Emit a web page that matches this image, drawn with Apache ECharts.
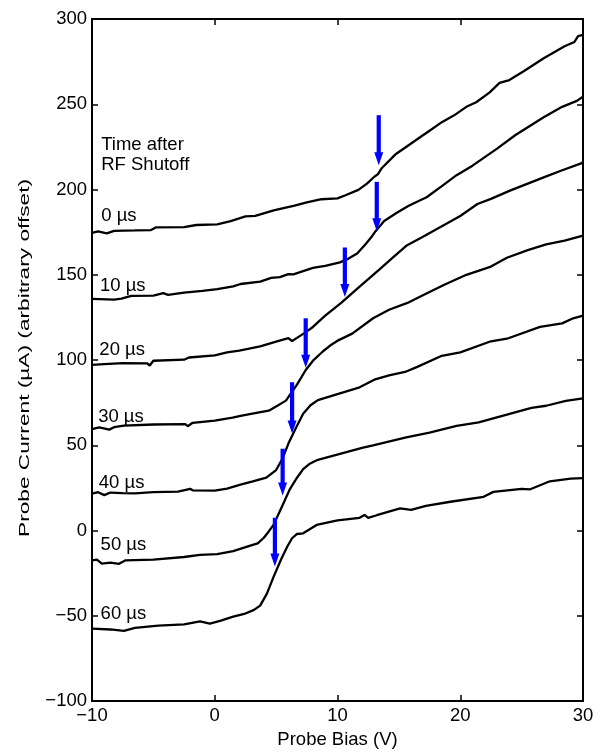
<!DOCTYPE html>
<html>
<head>
<meta charset="utf-8">
<script src="https://cdn.jsdelivr.net/npm/echarts@6/dist/echarts.min.js"></script>
<style>
html, body { margin: 0; padding: 0; background: #fff; }
#main { width: 602px; height: 754px; }
</style>
</head>
<body>
<div id="main"></div>
<script>
var myChart = echarts.init(document.getElementById('main'));

// probe traces, [bias V, current uA]
var trace0us = [[-10,174.6],[-9.5,175.4],[-8.8,174.3],[-8.2,175.8],[-6.5,176],[-5.2,176.2],[-4.8,177.8],[-2.5,178],[-1.5,179.2],[0.2,179.6],[1.3,181.5],[2.5,184.2],[3.3,184.5],[4.8,187.8],[6.5,190.5],[7.5,192.4],[8.7,194.3],[10.0,194.8],[10.6,196.5],[11.7,199.8],[12.4,203.5],[13.0,207.5],[13.3,209],[13.6,212.5],[14.7,220.5],[15.5,224.5],[16.9,231.5],[17.5,234.5],[18.5,239.5],[19.5,243.5],[20.5,248.5],[21.3,251.2],[22.4,257],[23.2,262.5],[24.0,264.2],[25.2,269.5],[26.8,277],[28.5,284],[29.3,286.5],[29.6,290],[30,290.7]];
var trace10us = [[-10,135.9],[-8.2,135.4],[-7.6,136],[-6.8,137.6],[-5,137.8],[-4.2,139.2],[-3.8,138.2],[-2.5,139.5],[-1,140.6],[0.2,141.6],[1.5,143.2],[2.1,144.6],[3.7,146.0],[4.6,148.2],[5.3,148.6],[6.0,150.4],[6.4,150.2],[8.0,154],[9.0,155.2],[10.2,157.3],[10.9,159.5],[11.6,162.5],[12.3,168],[12.8,172.5],[13.1,175.6],[13.8,181.5],[14.8,186.2],[15.8,190.5],[17.26,195.5],[18.5,202],[19.7,208.4],[21.0,214],[23.0,224],[24.5,232],[26.8,242.4],[28.3,248.5],[29.5,252],[30,254.5]];
var trace20us = [[-10,97.2],[-9,97.6],[-7.5,98.2],[-5.5,98],[-5.3,96.8],[-5.0,99.6],[-2.5,100.2],[-2.1,101.5],[0,102.8],[1,104.5],[2.0,105.5],[3.7,108],[5.0,110.8],[6.0,112.8],[6.3,111.2],[6.7,113],[7.3,115.8],[8.0,119.4],[9.0,126],[10.3,133.5],[11.8,143],[13.4,153],[14.5,160],[15.6,167],[17.0,172.5],[18.5,178.5],[20.0,184.5],[21.4,191.5],[22.5,194.5],[24.1,199.5],[25.5,203.5],[26.9,207.4],[28.2,211],[29.9,215.5],[30,216.2]];
var trace30us = [[-10,59.5],[-9.4,60.5],[-8.6,59.2],[-8.2,60.6],[-7.4,61.6],[-5,62.2],[-2.4,62.4],[-2.2,61.2],[-1.8,63.2],[0,64.5],[1.45,66.2],[2.1,67.2],[3.5,69.2],[4.4,70.3],[5.1,73.2],[5.8,76.2],[6.7,85.6],[7.4,94],[8.05,100],[8.8,105],[9.5,109],[10.1,111.7],[11.2,115.5],[12.9,124.5],[14.2,129.5],[15.7,133.5],[17.0,138.2],[18.7,144.2],[20.5,150],[22.5,154.8],[23.8,160],[25.5,164.5],[27.0,167.8],[28.5,170],[30,173]];
var trace40us = [[-10,21.7],[-9.5,22.5],[-9.0,20.8],[-8.5,22.3],[-7.5,22],[-6.5,21.8],[-5,22.6],[-3,22.8],[-2,24.5],[-1.8,23.6],[0,23.4],[1,24.6],[2.1,27.0],[3.1,28.8],[4.2,31],[5.0,35.5],[5.5,42],[6.0,51],[6.6,60],[7.2,68.5],[7.8,73.5],[8.4,76.5],[10.2,80.5],[11.8,84],[13.0,88.5],[14.2,91],[15.5,93],[16.5,96],[18.5,102.5],[20.0,104.5],[22.5,111],[23.8,112.5],[26.5,119.5],[28.3,121.5],[29.2,124.5],[30,126]];
var trace50us = [[-10,-17.5],[-9.6,-17],[-9.2,-19.4],[-8.5,-18.8],[-7.8,-19.5],[-7.3,-17.5],[-5,-17],[-2.5,-15.5],[-1.2,-14.2],[0.2,-13.8],[1.5,-12],[2.9,-8.8],[3.5,-7.5],[4.0,-4.2],[4.4,-0.5],[4.8,3.5],[5.6,16],[6.1,24],[6.7,31],[7.2,36],[7.7,39],[8.4,41.5],[10.2,45],[12.0,48.5],[12.9,50],[15.6,54.6],[17.5,57.5],[19.7,61.4],[21.5,63.5],[23.8,68],[25.8,72],[27.0,73.2],[28.6,76],[30,77.5]];
var trace60us = [[-10,-57.5],[-8.5,-58],[-7.4,-58.8],[-6.5,-57],[-4.6,-55.7],[-2.5,-55],[-1.2,-53.2],[-0.4,-54.6],[0.5,-52.8],[1.5,-50.5],[2.4,-48.9],[3.2,-46.5],[3.7,-44],[4.25,-37],[4.8,-27],[5.4,-17],[5.9,-9.5],[6.3,-4.5],[6.7,-2],[7.2,-1.6],[8.3,3.3],[10.0,6],[11.8,7.5],[12.2,9.2],[12.5,7.5],[13.2,9],[15.1,13],[16.0,12.2],[17.2,14.5],[19.2,16.9],[21.9,19.8],[22.7,22.7],[25.0,24.5],[25.7,24.2],[27.3,28.9],[29.0,30.5],[30,30.8]];

var traces = [trace0us, trace10us, trace20us, trace30us, trace40us, trace50us, trace60us];

// blue arrows: bias, start current, tip current
var arrowBias = [13.36, 13.2, 10.6, 7.41, 6.3, 5.53, 4.9];
var arrowTop = [243.6, 204.5, 166, 124.5, 87, 48, 7.5];
var arrowTip = [214.2, 175.5, 137, 95.5, 57, 20.5, -21];

// text annotations
var noteText = ['Time after\nRF Shutoff', '0 µs', '10 µs', '20 µs', '30 µs', '40 µs', '50 µs', '60 µs'];
var noteBias = [-9.25, -9.25, -9.35, -9.4, -9.5, -9.45, -9.3, -9.3];
var noteCurrent = [220.3, 184.6, 143.7, 105.7, 66.5, 28.1, -8.6, -48.7];

var FONT = 'Liberation Sans';

function fmtMinus(v) {
    return String(v).replace('-', '\u2212');
}

function renderArrow(params, api) {
    var top = api.coord([api.value(0), api.value(1)]);
    var tip = api.coord([api.value(0), api.value(2)]);
    var headH = 13, headW = 4.5, shaftW = 2.1;
    return {
        type: 'group',
        children: [{
            type: 'rect',
            shape: { x: top[0] - shaftW, y: top[1], width: shaftW * 2, height: tip[1] - headH - top[1] + 1 },
            style: { fill: '#0000ff' }
        }, {
            type: 'polygon',
            shape: { points: [[tip[0] - headW, tip[1] - headH], [tip[0] + headW, tip[1] - headH], [tip[0], tip[1]]] },
            style: { fill: '#0000ff' }
        }]
    };
}

function renderNote(params, api) {
    var p = api.coord([api.value(0), api.value(1)]);
    return {
        type: 'text',
        x: p[0],
        y: p[1],
        style: {
            text: noteText[params.dataIndex],
            fill: '#000',
            font: '18.5px "Liberation Sans"',
            lineHeight: 20,
            align: 'left',
            verticalAlign: 'middle'
        }
    };
}

var axisCommon = {
    type: 'value',
    axisLine: { show: true, onZero: false, lineStyle: { color: '#000', width: 2 } },
    axisTick: { show: true, inside: true, length: 6, lineStyle: { color: '#000', width: 1.5 } },
    splitLine: { show: false }
};

var series = traces.map(function (t) {
    return {
        type: 'line',
        data: t,
        showSymbol: false,
        symbol: 'none',
        lineStyle: { color: '#000', width: 2.3 },
        z: 3
    };
});

series.push({
    type: 'custom',
    renderItem: renderArrow,
    data: arrowBias.map(function (b, i) { return [b, arrowTop[i], arrowTip[i]]; }),
    encode: { x: 0, y: [1, 2] },
    z: 5
});

series.push({
    type: 'custom',
    renderItem: renderNote,
    data: noteBias.map(function (b, i) { return [b, noteCurrent[i]]; }),
    encode: { x: 0, y: 1 },
    z: 6
});

option = {
    animation: false,
    backgroundColor: '#fff',
    grid: { left: 92, right: 19, top: 19, bottom: 45, containLabel: false },
    xAxis: [
        Object.assign({}, axisCommon, {
            min: -10, max: 30, interval: 10,
            name: 'Probe Bias (V)',
            nameLocation: 'middle',
            nameGap: 26,
            nameTextStyle: { color: '#000', fontFamily: FONT, fontSize: 18.5 },
            axisLabel: { color: '#000', fontFamily: FONT, fontSize: 18.5, margin: 5, formatter: fmtMinus }
        }),
        Object.assign({}, axisCommon, {
            position: 'top', min: -10, max: 30, interval: 10,
            axisLabel: { show: false }
        })
    ],
    yAxis: [
        Object.assign({}, axisCommon, {
            min: -100, max: 300, interval: 50,
            axisLabel: { color: '#000', fontFamily: FONT, fontSize: 18.5, margin: 5, formatter: fmtMinus }
        }),
        Object.assign({}, axisCommon, {
            position: 'right', min: -100, max: 300, interval: 50,
            axisLabel: { show: false }
        })
    ],
    graphic: [{
        type: 'text',
        x: 25,
        y: 358,
        rotation: Math.PI / 2,
        scaleX: 1.62,
        style: {
            text: 'Probe Current (µA) (arbitrary offset)',
            font: '14px "Liberation Sans"',
            fill: '#000',
            align: 'center',
            verticalAlign: 'middle',
            textAlign: 'center',
            textVerticalAlign: 'middle'
        }
    }],
    series: series
};

myChart.setOption(option);
</script>
</body>
</html>
